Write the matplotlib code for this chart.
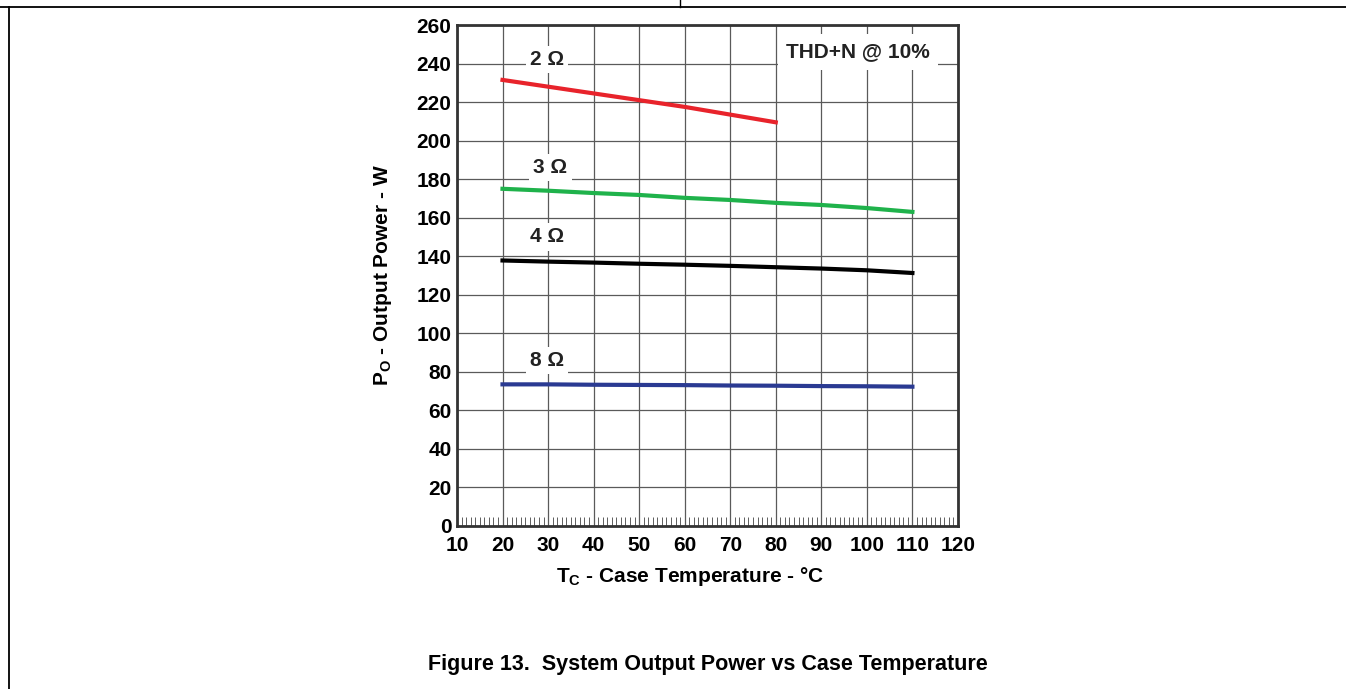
import matplotlib
matplotlib.use("Agg")
import matplotlib.pyplot as plt
from matplotlib.lines import Line2D
from matplotlib.ticker import MultipleLocator

plt.rcParams['font.family'] = ['Liberation Sans', 'DejaVu Sans']
plt.rcParams['mathtext.fontset'] = 'custom'
plt.rcParams['mathtext.rm'] = 'Liberation Sans:bold'

# Data
temp_2ohm = [20, 30, 40, 50, 60, 70, 80]
power_2ohm = [231.5, 228, 224.5, 221, 217.5, 213.5, 209.5]

temps = [20, 30, 40, 50, 60, 70, 80, 90, 100, 110]
power_3ohm = [175, 174, 172.8, 171.8, 170.3, 169.2, 167.7, 166.6, 165, 163]
power_4ohm = [137.8, 137.2, 136.7, 136.1, 135.6, 135, 134.3, 133.6, 132.7, 131.3]
power_8ohm = [73.5, 73.5, 73.3, 73.2, 73.1, 72.9, 72.8, 72.6, 72.5, 72.3]

labels = ["2", "3", "4", "8"]
label_pos = [(29.8, 242), (30.5, 186), (29.8, 150), (29.8, 86)]

fig = plt.figure(figsize=(13.46, 6.89), dpi=100)
ax = fig.add_axes([0.3395, 0.2366, 0.3722, 0.7271])

# Curves
ax.plot(temp_2ohm, power_2ohm, color="#e8232b", linewidth=3)
ax.plot(temps, power_3ohm, color="#1fb24b", linewidth=3)
ax.plot(temps, power_4ohm, color="black", linewidth=3)
ax.plot(temps, power_8ohm, color="#2a3a92", linewidth=3)

# Axes limits, ticks and grid
ax.set_xlim(10, 120)
ax.set_ylim(0, 260)
ax.xaxis.set_major_locator(MultipleLocator(10))
ax.xaxis.set_minor_locator(MultipleLocator(1))
ax.yaxis.set_major_locator(MultipleLocator(20))
ax.grid(True, which="major", color="#5a5a5a", linewidth=0.9)
ax.tick_params(axis="x", which="minor", direction="in", length=6.5, width=0.6, color="#444444")
ax.tick_params(axis="x", which="major", direction="in", length=0, pad=7)
ax.tick_params(axis="y", which="major", direction="out", length=0, pad=4)
for lab in ax.get_xticklabels() + ax.get_yticklabels():
    lab.set_fontweight("bold")
    lab.set_fontsize(15)
for sp in ax.spines.values():
    sp.set_linewidth(2)
    sp.set_color("#333333")

# Axis labels
ax.set_xlabel(r"T$_\mathrm{C}$ - Case Temperature - °C", fontsize=15, fontweight="bold")
ax.xaxis.set_label_coords(0.465, -0.078)
ax.set_ylabel(r"P$_\mathrm{O}$ - Output Power - W", fontsize=15, fontweight="bold")
ax.yaxis.set_label_coords(-0.126, 0.5)

# Curve labels
for lab, (x, y) in zip(labels, label_pos):
    ax.text(x, y, lab + " Ω", fontsize=15, fontweight="bold", ha="center", va="center",
            color="#222222", bbox=dict(facecolor="white", edgecolor="none", pad=3))

ax.text(98, 246, "THD+N @ 10%", fontsize=15, fontweight="bold", ha="center", va="center",
        color="#222222", bbox=dict(facecolor="white", edgecolor="none", pad=6))

# Caption
fig.text(0.526, 0.036, "Figure 13.  System Output Power vs Case Temperature",
         fontsize=15.5, fontweight="bold", ha="center", va="center")

# Page frame lines
fig.add_artist(Line2D([0, 1], [0.9905, 0.9905], color="black", linewidth=1.3))
fig.add_artist(Line2D([0.0065, 0.0065], [0, 0.9905], color="black", linewidth=1.3))
fig.add_artist(Line2D([0.505, 0.505], [0.9905, 1], color="black", linewidth=1))

fig.savefig("out.png", dpi=100)
